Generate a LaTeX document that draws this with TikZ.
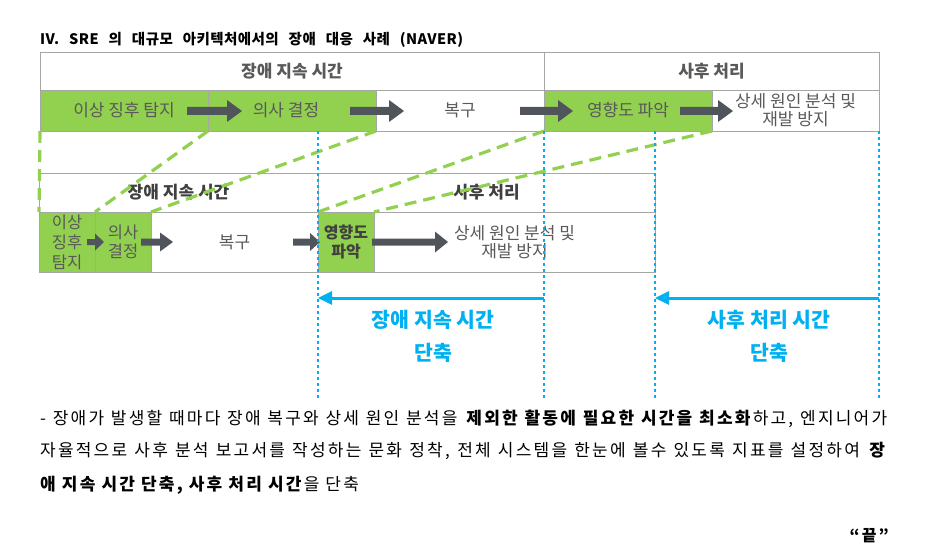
\documentclass[tikz,border=0pt]{standalone}
\usepackage{fontspec}
\setmainfont{Noto Sans CJK KR}
\newfontfamily\bodyfont{Noto Sans CJK KR}[LetterSpace=13]
\newfontfamily\titlefont{Noto Sans CJK KR}[LetterSpace=3]
\usetikzlibrary{arrows.meta}
\definecolor{lgreen}{HTML}{92D050}
\definecolor{bgray}{HTML}{A6A6A6}
\definecolor{tgray}{HTML}{595959}
\definecolor{dgray}{HTML}{404040}
\definecolor{agray}{HTML}{50545B}
\definecolor{sblue}{HTML}{00B0F0}
\newcommand{\blkarrow}[6]{%
  \fill[agray] (#1,{#3-#4}) -- ({#2-#6},{#3-#4}) -- ({#2-#6},{#3-#5}) -- (#2,#3)
    -- ({#2-#6},{#3+#5}) -- ({#2-#6},{#3+#4}) -- (#1,{#3+#4}) -- cycle;}
\tikzset{
  cell/.style={draw=bgray, line width=0.9pt, anchor=north west, inner sep=0pt, outer sep=0pt,
    text=tgray, align=center, font=\fontsize{17}{18}\selectfont},
  gcell/.style={cell, fill=lgreen},
  hdr/.style={cell, font=\fontsize{17}{18}\selectfont\bfseries},
  gdash/.style={draw=lgreen, line width=3.2pt, dash pattern=on 12pt off 7pt},
  bdot/.style={draw=sblue, line width=2.6pt, dash pattern=on 2.6pt off 3.4pt},
  barrow/.style={draw=sblue, line width=3pt, -{Triangle[length=14pt,width=13pt]}},
  bluetxt/.style={text=sblue, align=center, font=\fontsize{20.5}{33}\selectfont\bfseries},
  bodytxt/.style={anchor=base west, inner sep=0pt, font=\bodyfont\fontsize{17}{20}\selectfont},
}
\begin{document}
\begin{tikzpicture}[x=1pt,y=-1pt]
\useasboundingbox (0,0) rectangle (931,559);
% title
\node[anchor=base west, inner sep=0pt, font=\titlefont\fontsize{14.5}{16}\selectfont\bfseries] (title) at (40,44.5)
  {\makebox[423pt][s]{IV. SRE 의 대규모 아키텍처에서의 장애 대응 사례 (NAVER)}};
% top table
\node[hdr, minimum width=504pt, minimum height=38pt] (h1) at (40,52) {장애 지속 시간};
\node[hdr, minimum width=335pt, minimum height=38pt] (h2) at (544,52) {사후 처리};
\node[gcell, minimum width=168pt, minimum height=41pt] (r1) at (40,90) {이상 징후 탐지};
\node[gcell, minimum width=168pt, minimum height=41pt] (r2) at (208,90) {\hspace*{-12pt}의사 결정};
\node[cell, minimum width=168pt, minimum height=41pt] (r3) at (376,90) {복구};
\node[gcell, minimum width=168pt, minimum height=41pt] (r4) at (544,90) {영향도 파악};
\node[cell, minimum width=167pt, minimum height=41pt] (r5) at (712,90) {상세 원인 분석 및\\재발 방지};
\blkarrow{187}{242}{111}{4}{11}{15}
\blkarrow{350}{404}{111}{4}{11}{15}
\blkarrow{520}{573}{111}{4}{11}{15}
\blkarrow{680}{733}{111}{4}{11}{15}
% second table
\node[hdr, text=dgray, minimum width=279pt, minimum height=39pt] (k1) at (39,173) {장애 지속 시간};
\node[hdr, text=dgray, minimum width=337pt, minimum height=39pt] (k2) at (318,173) {사후 처리};
\node[gcell, minimum width=56pt, minimum height=60pt, font=\fontsize{16.5}{20}\selectfont] (s1) at (39,212) {이상\\징후\\탐지};
\node[gcell, minimum width=56pt, minimum height=60pt, font=\fontsize{16.5}{18.5}\selectfont] (s2) at (95,212) {의사\\결정};
\node[cell, minimum width=167pt, minimum height=60pt] (s3) at (151,212) {복구};
\node[gcell, text=dgray, minimum width=56pt, minimum height=60pt, font=\fontsize{16}{19.5}\selectfont\bfseries] (s4) at (318,212) {영향도\\파악};
\node[cell, minimum width=281pt, minimum height=60pt] (s5) at (374,212) {상세 원인 분석 및\\재발 방지};
\blkarrow{87}{104}{242}{3}{8.5}{9}
\blkarrow{141}{173}{242}{3.5}{9.5}{13}
\blkarrow{293}{320}{242}{3.5}{9}{10}
\blkarrow{372}{448}{242}{3.5}{10.5}{13}
% green dashed links
\draw[gdash] (r1.south west) -- (s1.north west);
\draw[gdash] (r1.south east) -- (s1.north east);
\draw[gdash] (r2.south east) -- (s2.north east);
\draw[gdash] (r3.south east) -- (s3.north east);
\draw[gdash] (r4.south east) -- (s4.north east);
% blue dotted lines
\coordinate (d1t) at (318,131); \coordinate (d1b) at (318,399);
\coordinate (d2t) at (544,131); \coordinate (d2b) at (544,399);
\coordinate (d3t) at (655,131); \coordinate (d3b) at (655,399);
\coordinate (d4t) at (879,131); \coordinate (d4b) at (879,399);
\draw[bdot] (d1t) -- (d1b);
\draw[bdot] (d2t) -- (d2b);
\draw[bdot] (d3t) -- (d3b);
\draw[bdot] (d4t) -- (d4b);
% blue arrows
\coordinate (a1s) at (544,298); \coordinate (a1e) at (318,298);
\coordinate (a2s) at (879,298); \coordinate (a2e) at (655,298);
\draw[barrow] (a1s) -- (a1e);
\draw[barrow] (a2s) -- (a2e);
\node[bluetxt] (bt1) at (433,336) {장애 지속 시간\\단축};
\node[bluetxt] (bt2) at (769,336) {사후 처리 시간\\단축};
% paragraph
\node[bodytxt] (p1) at (40,424) {\makebox[847pt][s]{- 장애가 발생할 때마다 장애 복구와 상세 원인 분석을 \textbf{제외한 활동에 필요한 시간을 최소화}하고, 엔지니어가}};
\node[bodytxt] (p2) at (40,456) {\makebox[847pt][s]{자율적으로 사후 분석 보고서를 작성하는 문화 정착, 전체 시스템을 한눈에 볼수 있도록 지표를 설정하여 \textbf{장}}};
\node[bodytxt] (p3) at (40,490.5) {\textbf{애 지속 시간 단축, 사후 처리 시간}을 단축};
\node[anchor=base east, inner sep=0pt, font=\bodyfont\fontsize{16}{18}\selectfont\bfseries] (end) at (889,541) {“끝”};
\end{tikzpicture}
\end{document}
